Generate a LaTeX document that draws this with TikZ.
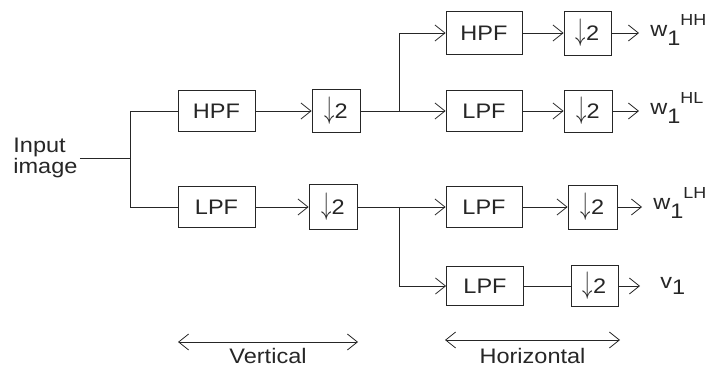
\documentclass[tikz,border=0pt]{standalone}
\usepackage{fontspec}
\setmainfont[FakeStretch=1.12]{Liberation Sans}
\usetikzlibrary{arrows.meta}

\newcommand\wlab[1]{w\raisebox{-9pt}{1}\raisebox{11pt}{\fontsize{16}{16}\selectfont #1}}
\newcommand\dsym{\scalebox{1}[1.5]{$\downarrow$}2}

\begin{document}
\begin{tikzpicture}[
    x=1pt, y=-1pt,
    font=\fontsize{21}{24}\selectfont,
    color=black!85, line width=0.8pt,
    box/.style={draw, minimum width=77pt, minimum height=41pt, inner sep=0pt},
    dsbox/.style={draw, minimum width=48pt, minimum height=43pt, inner sep=0pt},
    outlab/.style={anchor=base west, inner xsep=11pt, inner ysep=0pt},
    arr/.style={-{Straight Barb[length=10pt, width=16pt]}},
    both/.style={{Straight Barb[length=10pt, width=16pt]}-{Straight Barb[length=10pt, width=16pt]}}
  ]
    \useasboundingbox (0,0) rectangle (707,371);
    % first stage
    \node[anchor=west, align=left, inner xsep=2pt, inner ysep=0pt, font=\fontsize{21}{18}\selectfont] (in) at (11,158) {Input\\image};
    \coordinate (j1) at (130,158);
    \node[box] (hpf1) at (216.5,111) {HPF};
    \node[box] (lpf1) at (216.5,207) {LPF};
    \node[dsbox] (ds1) at (336,111) {\dsym};
    \node[dsbox, minimum height=45pt] (ds2) at (333,207) {\dsym};
    % second stage
    \coordinate (j2) at (399,111);
    \coordinate (j3) at (399,207);
    \node[box, minimum width=76pt, minimum height=43pt] (hpf2) at (484,33) {HPF};
    \node[box, minimum width=76pt] (lpf2) at (484,111) {LPF};
    \node[box, minimum width=76pt] (lpf3) at (484,207) {LPF};
    \node[box, minimum height=39pt] (lpf4) at (485,286) {LPF};
    \node[dsbox, minimum width=47pt, minimum height=44pt] (ds3) at (587.5,33) {\dsym};
    \node[dsbox, minimum height=42pt] (ds4) at (588,111) {\dsym};
    \node[dsbox, minimum width=49pt, minimum height=44pt] (ds5) at (592.5,207) {\dsym};
    \node[dsbox, minimum width=47pt, minimum height=41pt] (ds6) at (594.5,286) {\dsym};
    % outputs
    \node[outlab] (o1) at (639,37) {\wlab{HH}};
    \node[outlab] (o2) at (639,115) {\wlab{HL}};
    \node[outlab] (o3) at (642,210) {\wlab{LH}};
    \node[outlab, inner xsep=20pt] (o4) at (640,289) {v\raisebox{-6pt}{1}};
    % connectors
    \draw (in.east) -- (j1);
    \draw (j1) |- (hpf1);
    \draw (j1) |- (lpf1);
    \draw[arr] (hpf1) -- (ds1);
    \draw[arr] (lpf1) -- (ds2);
    \draw (ds1) -- (j2);
    \draw (ds2) -- (j3);
    \draw[arr] (j2) |- (hpf2);
    \draw[arr] (j2) -- (lpf2);
    \draw[arr] (j3) -- (lpf3);
    \draw[arr] (j3) |- (lpf4);
    \draw[arr] (hpf2) -- (ds3);
    \draw[arr] (lpf2) -- (ds4);
    \draw[arr] (lpf3) -- (ds5);
    \draw (lpf4) -- (ds6);
    \draw[arr] (ds3) -- (ds3 -| o1.west);
    \draw[arr] (ds4) -- (ds4 -| o2.west);
    \draw[arr] (ds5) -- (ds5 -| o3.west);
    \draw[arr] (ds6) -- (ds6 -| o4.west);
    % directions
    \coordinate (va) at (178,342);
    \coordinate (vb) at (358,342);
    \coordinate (ha) at (445,340);
    \coordinate (hb) at (620,340);
    \draw[both] (va) -- node[below=3pt] (vl) {Vertical} (vb);
    \draw[both] (ha) -- node[below=5pt] (hl) {Horizontal} (hb);
  \end{tikzpicture}
\end{document}
